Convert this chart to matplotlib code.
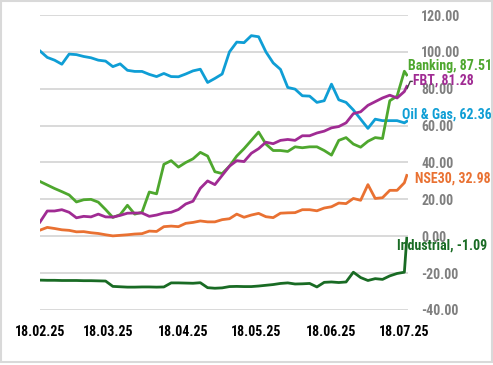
import matplotlib
matplotlib.use("Agg")
import matplotlib.pyplot as plt
import matplotlib.dates as mdates
from matplotlib import font_manager
from matplotlib.patches import Rectangle
import pandas as pd

# pick a narrow bold face if one is installed
installed = {f.name for f in font_manager.fontManager.ttflist}
narrow = None
for name in ['Liberation Sans Narrow', 'DejaVu Sans Condensed', 'Roboto Condensed',
             'Open Sans Condensed', 'Noto Sans Condensed']:
    if name in installed:
        narrow = name
        break
if narrow:
    plt.rcParams['font.family'] = [narrow, 'DejaVu Sans']
    fs = 10
else:
    plt.rcParams['font.family'] = ['Liberation Sans', 'DejaVu Sans']
    fs = 9
plt.rcParams['font.weight'] = 'bold'

# Sample dates (every 3 days from 18.02.25, plus last point)
dates = list(pd.date_range('2025-02-18', periods=51, freq='3D')) + [pd.Timestamp('2025-07-19')]

oil_gas = [100.5, 97, 95.5, 93.3, 98.8, 98.5, 97.5, 96.8, 95.5, 95,
           92, 93.5, 90, 89.4, 89.4, 87.8, 86.6, 88.3, 86.6, 86.5,
           88, 89.7, 90.6, 83.4, 85.6, 88, 100, 105.3, 105, 108.8,
           108.2, 100, 94, 90.5, 80.7, 79.8, 76.2, 76, 72.6, 73.5,
           82.5, 74, 72.6, 68.5, 63.5, 58.5, 63.5, 62.7, 62.7, 62.7,
           61.5, 62.36]
banking = [29.7, 27.8, 25.9, 24.2, 22.4, 18.6, 19.8, 20, 18.5, 14.5,
           10.2, 11.7, 16.8, 12, 13, 24, 23, 39, 41, 37.5,
           40, 42, 45.5, 43.5, 35, 34, 38, 43.5, 47.5, 52,
           56.5, 50, 46.5, 46.5, 46, 48.5, 48, 48.5, 48.5, 46.5,
           44, 52, 53.5, 50, 48.3, 51.5, 53.5, 53, 73.5, 76,
           89.5, 87.51]
fbt = [7.7, 13.7, 13.7, 14.4, 13, 10, 10.8, 10.5, 12, 10.5,
       10.4, 11.3, 12.5, 12.6, 12.6, 10.8, 11.5, 12.6, 13, 14.5,
       17.5, 19, 26, 30, 28, 33, 38, 41, 40.5, 45,
       47.5, 51, 50.2, 52, 52.5, 52, 54.5, 54.5, 56, 57,
       58.8, 59.5, 61.5, 66.5, 67.5, 71, 73, 75, 76.5, 75,
       78.5, 81.28]
nse30 = [3.3, 4.8, 4.2, 3.5, 3.2, 2.4, 2.5, 1.9, 1.5, 0.8,
         0.2, 0.5, 0.8, 1.2, 1.4, 2.8, 2.6, 5.2, 5.5, 5.2,
         7, 7.5, 8.3, 7.8, 7.8, 9, 9.5, 12, 10.3, 11.5,
         12.4, 10.6, 10.1, 12.5, 12.7, 12.8, 14.4, 14.4, 13.8, 15.3,
         16, 18, 17.7, 20.5, 19.5, 28, 20.5, 20.9, 24.9, 24.9,
         29, 32.98]
industrial = [-23.8, -23.9, -23.9, -24, -24, -24, -24.1, -24.1, -24.2, -24.3,
              -27.2, -27.4, -27.6, -27.6, -27.5, -27.5, -27.6, -27.5, -25.3, -25.3,
              -25.4, -25.5, -25.2, -27.9, -28.2, -28, -27.3, -27.2, -27.3, -27.3,
              -27, -26.6, -26.2, -25.6, -25.3, -25.9, -25.8, -25.6, -27.5, -25,
              -24.8, -25.1, -24.8, -19.5, -22.4, -24, -23, -23.4, -21.5, -20.2,
              -19.5, -1.09]

series = [
    ("Oil & Gas", oil_gas, "#0f9ed5"),
    ("Banking", banking, "#4ea72e"),
    ("FBT", fbt, "#a02b93"),
    ("NSE30", nse30, "#e97132"),
    ("Industrial", industrial, "#196b24"),
]

xtick_labels = ['18.02.25', '18.03.25', '18.04.25', '18.05.25', '18.06.25', '18.07.25']
yticks = [-40, -20, 0, 20, 40, 60, 80, 100, 120]

fig = plt.figure(figsize=(4.93, 3.65), dpi=100)
ax = fig.add_axes([0.0811, 0.1507, 0.7465, 0.8082])

for name, vals, color in series:
    ax.plot(dates, vals, color=color, lw=2.0, solid_joinstyle='round')

d0 = pd.Timestamp('2025-02-18')
ax.set_xlim(d0, d0 + pd.Timedelta(days=151.5))
ax.set_ylim(-40, 120)

ax.set_xticks([pd.to_datetime(t, format='%d.%m.%y') for t in xtick_labels])
ax.xaxis.set_major_formatter(mdates.DateFormatter('%d.%m.%y'))
ax.set_yticks(yticks)
ax.yaxis.set_major_formatter(plt.FuncFormatter(lambda v, p: f"{v:.2f}"))
ax.yaxis.tick_right()
ax.tick_params(axis='y', length=0, pad=9.5, labelsize=fs, labelcolor='#7f7f7f')
ax.tick_params(axis='x', length=0, pad=11, labelsize=fs, labelcolor='#000000')
ax.grid(axis='y', color='#d9d9d9', lw=1.4)
ax.set_axisbelow(True)
for s in ax.spines.values():
    s.set_visible(False)

# end labels
def at(day):
    return d0 + pd.Timedelta(days=day)

ax.text(at(151.4), 92.4, "Banking, 87.51", color="#4ea72e", fontsize=fs, va='center', ha='left', clip_on=False)
ax.text(at(153.5), 84.3, "FBT, 81.28", color="#a02b93", fontsize=fs, va='center', ha='left', clip_on=False)
ax.plot([at(151.2), at(152.4), at(153.2)], [80.3, 84.0, 84.0], color='#404040', lw=1, clip_on=False)
ax.text(at(149.0), 66.0, "Oil & Gas, 62.36", color="#0f9ed5", fontsize=fs, va='center', ha='left', clip_on=False)
ax.text(at(154.3), 31.4, "NSE30, 32.98", color="#e97132", fontsize=fs, va='center', ha='left', clip_on=False)
ax.text(at(146.9), -4.9, "Industrial, -1.09", color="#196b24", fontsize=fs, va='center', ha='left', clip_on=False)

fig.patches.append(Rectangle((0.002, 0.007), 0.995, 0.99, transform=fig.transFigure,
                             fill=False, ec='#d9d9d9', lw=1.5))

fig.savefig("out.png", dpi=100)
